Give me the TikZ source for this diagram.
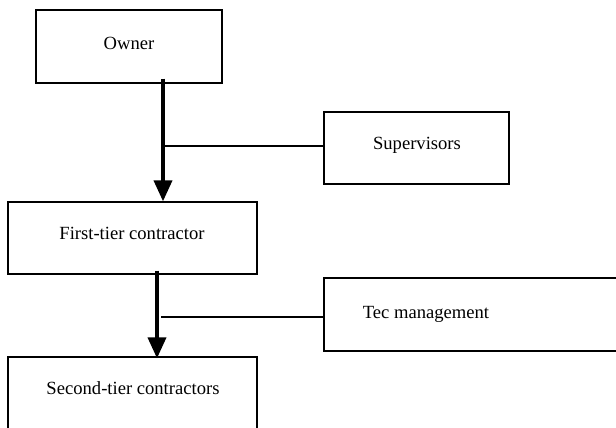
\documentclass[tikz,border=0pt]{standalone}
\usepackage{fontspec}
\setmainfont{Liberation Serif}
\usetikzlibrary{arrows.meta,calc}
\begin{document}
\begin{tikzpicture}[x=1pt,y=-1pt,
  box/.style={draw=black,line width=1.3pt,rectangle,inner sep=0pt,font=\fontsize{18.6}{22}\selectfont},
  lbl/.style={inner sep=0pt,font=\fontsize{18.6}{22}\selectfont},
  flow/.style={line width=3.8pt,-{Triangle[length=21pt,width=18pt]}},
  tie/.style={line width=1.3pt}]
\useasboundingbox (0,0) rectangle (616,428);
\clip (0,0) rectangle (616,428);
\node[box,minimum width=186pt,minimum height=73pt] (owner) at (129,46.5) {};
\node[lbl] (ownert) at (129,43) {Owner};
\node[box,minimum width=185pt,minimum height=72pt] (sup) at (416.5,148) {};
\node[lbl] (supt) at (417,145) {Supervisors};
\node[box,minimum width=249pt,minimum height=72pt] (first) at (132.5,238) {};
\node[lbl] (firstt) at (132,233) {First-tier contractor};
\node[box,minimum width=330pt,minimum height=73pt] (tec) at (489,314.5) {};
\node[lbl] (tect) at (426,314) {Tec management};
\node[box,minimum width=249pt,minimum height=72pt] (second) at (132.5,393) {};
\node[lbl] (secondt) at (133,388) {Second-tier contractors};
\coordinate (a1) at (163,0);
\coordinate (a2) at (157,0);
\draw[flow] ([yshift=5pt]owner.south -| a1) -- (first.north -| a1);
\draw[tie] ([yshift=2pt]sup.west) -- ([yshift=2pt]sup.west -| a1);
\draw[flow] ([yshift=4pt]first.south -| a2) -- ([yshift=-2pt]second.north -| a2);
\draw[tie] ([yshift=-2.5pt]tec.west) -- ([xshift=4pt,yshift=-2.5pt]tec.west -| a2);
\end{tikzpicture}
\end{document}
